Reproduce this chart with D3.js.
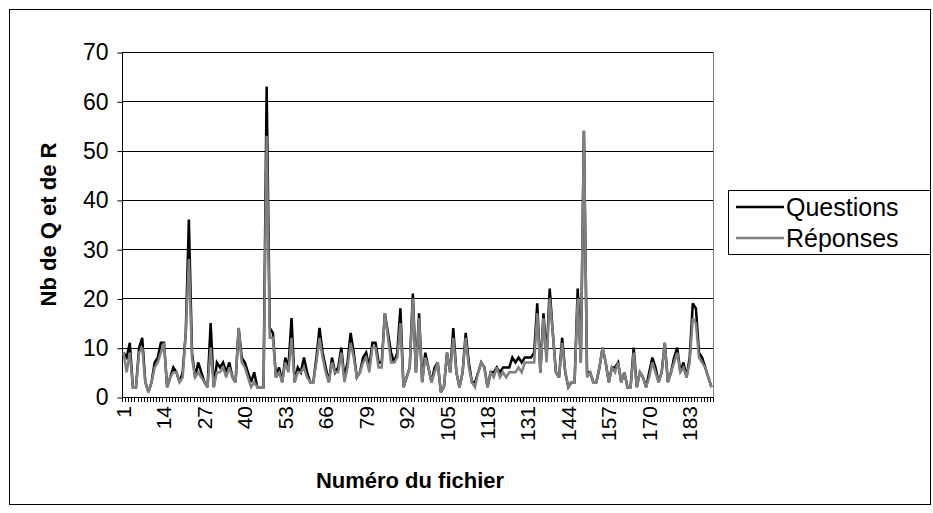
<!DOCTYPE html>
<html><head><meta charset="utf-8">
<script src="https://cdn.jsdelivr.net/npm/d3@7/dist/d3.min.js"></script>
<style>
body{margin:0;background:#fff}
svg{display:block}
text{font-family:"Liberation Sans",Arial,sans-serif;fill:#000}
</style>
</head><body>
<svg id="chart" width="933" height="513"></svg>
<script>
const questions = [9,8,11,2,2,10,12,3,1,3,7,8,11,11,2,4,6,5,3,5,13,36,9,4,7,5,3,2,15,2,
7,6,7,5,7,4,3,14,8,7,5,3,5,2,2,2,63,14,13,4,6,3,8,6,16,3,6,5,8,5,
3,3,8,14,9,6,3,8,5,6,10,4,7,13,9,4,5,8,9,6,11,11,7,7,17,13,9,7,9,18,
2,4,6,21,5,17,3,9,6,3,6,7,1,2,9,5,14,5,2,5,13,7,3,3,5,7,6,2,5,5,
6,5,6,6,6,8,7,8,7,8,8,8,9,19,5,17,8,22,13,5,4,12,5,2,3,3,22,7,54,5,
5,3,3,6,10,7,3,6,6,7,3,5,2,2,10,2,5,4,2,5,8,6,3,5,11,3,5,8,10,5,
7,4,8,19,18,9,8,6,4,2];
const reponses = [9,5,9,2,2,9,10,3,1,3,6,7,9,11,2,4,5,5,3,4,13,28,8,4,5,4,3,2,10,2,
5,5,6,4,6,4,3,14,7,6,4,2,3,2,2,2,53,12,12,4,5,3,7,5,12,3,5,5,6,4,
3,3,7,12,8,5,3,7,5,5,9,3,6,11,8,4,5,7,8,5,10,10,6,6,17,12,7,7,8,15,
2,4,6,20,5,16,3,8,6,3,5,7,1,2,9,5,12,5,2,5,12,6,3,2,5,7,6,2,5,4,
6,4,5,4,5,5,5,6,5,7,7,7,7,17,5,16,7,20,13,5,4,11,5,2,3,3,20,7,54,4,
5,3,3,6,10,7,3,6,5,7,3,5,2,2,9,2,5,4,2,4,7,5,3,5,11,3,5,7,9,5,
6,4,7,16,15,8,7,6,4,2];
const categories = d3.range(1, questions.length + 1);
const xTickLabels = ["1","14","27","40","53","66","79","92","105","118","131","144","157","170","183"];
const yTickValues = [0,10,20,30,40,50,60,70];
const seriesNames = ["Questions","Réponses"];
const seriesColors = ["#000000","#808080"];

const svg = d3.select("#chart");
const L = 122, R = 713, T = 52, B = 397;

svg.append("rect").attr("x",9.5).attr("y",9.5).attr("width",921).attr("height",495)
  .attr("fill","none").attr("stroke","#000").attr("stroke-width",1);

const x = d3.scaleBand().domain(categories).range([L, R]).padding(0);
const y = d3.scaleLinear().domain([0,70]).range([B, T]);
const cx = d => x(d) + x.bandwidth()/2;

svg.append("rect").attr("x",L+0.5).attr("y",T+0.5).attr("width",R-L).attr("height",B-T)
  .attr("fill","none").attr("stroke","#808080").attr("stroke-width",1);

svg.append("g").selectAll("line").data(yTickValues.filter(v=>v>0)).join("line")
  .attr("x1",L).attr("x2",R).attr("y1",d=>Math.round(y(d))+0.5).attr("y2",d=>Math.round(y(d))+0.5)
  .attr("stroke","#000").attr("stroke-width",1);

const yAxis = d3.axisLeft(y).tickValues(yTickValues).tickSize(5).tickPadding(9).tickFormat(d3.format("d"));
const gy = svg.append("g").attr("transform",`translate(${L+0.5},0.5)`).call(yAxis);
gy.selectAll("text").style("font-size","23px");
gy.selectAll("line,path").attr("stroke","#000");
gy.select(".domain").attr("d",`M0,${T}V${B}`);

const bounds = categories.map(c=>x(c)).concat([R]);
svg.append("g").selectAll("line").data(bounds).join("line")
  .attr("x1",d=>Math.round(d)+0.5).attr("x2",d=>Math.round(d)+0.5)
  .attr("y1",B).attr("y2",B+5).attr("stroke","#000").attr("stroke-width",1);
svg.append("line").attr("x1",L).attr("x2",R).attr("y1",B+0.5).attr("y2",B+0.5).attr("stroke","#000");

svg.append("g").selectAll("text").data(xTickLabels).join("text")
  .attr("transform",d=>`translate(${cx(+d)+7.5},${B+9}) rotate(-90)`)
  .attr("text-anchor","end").style("font-size","21px").text(d=>d);

const line = d3.line().x((d,i)=>cx(categories[i])).y(d=>y(d));
[questions, reponses].forEach((s,k)=>{
  svg.append("path").datum(s).attr("d",line).attr("fill","none")
    .attr("stroke",seriesColors[k]).attr("stroke-width",2.5).attr("stroke-linejoin","miter").attr("stroke-miterlimit",3);
});

svg.append("text").attr("x",410).attr("y",488).attr("text-anchor","middle")
  .style("font-size","22px").style("font-weight","bold").text("Numéro du fichier");
svg.append("text").attr("transform",`translate(56,${(T+B)/2}) rotate(-90)`).attr("text-anchor","middle")
  .style("font-size","22px").style("font-weight","bold").text("Nb de Q et de R");

const lg = svg.append("g");
lg.append("rect").attr("x",728.5).attr("y",190.5).attr("width",202).attr("height",64)
  .attr("fill","#fff").attr("stroke","#000");
seriesNames.forEach((n,k)=>{
  const yy = 207 + k*31;
  lg.append("line").attr("x1",736).attr("x2",784).attr("y1",yy).attr("y2",yy)
    .attr("stroke",seriesColors[k]).attr("stroke-width",2.5);
  lg.append("text").attr("x",786).attr("y",yy+9).style("font-size","25px").text(n);
});
</script>
</body></html>
